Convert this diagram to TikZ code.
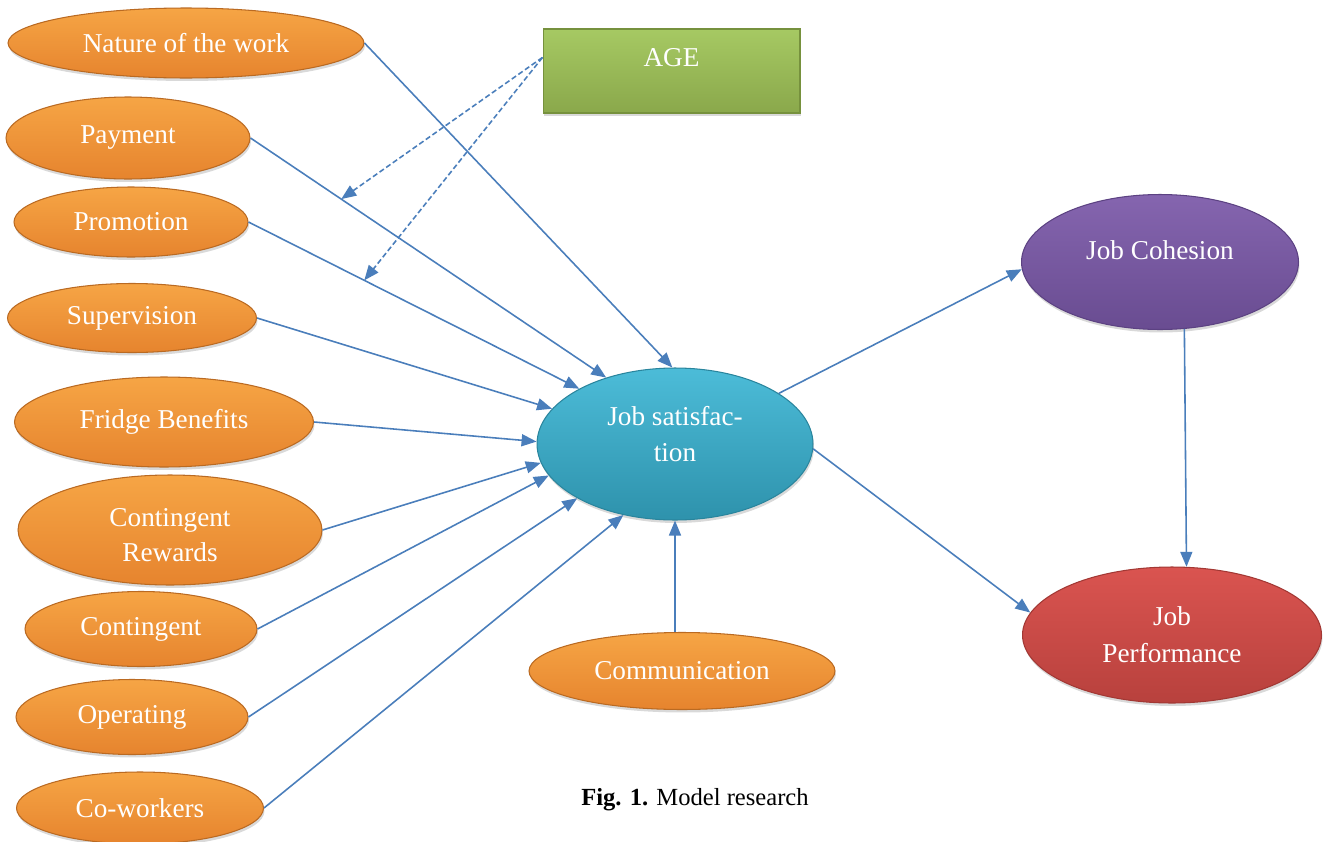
\documentclass[tikz,border=0pt]{standalone}
\usepackage{fontspec}
\setmainfont{Liberation Serif}
\usetikzlibrary{shapes.geometric,arrows.meta,shadows}
\definecolor{orTop}{HTML}{F6A545}
\definecolor{orBot}{HTML}{E6842E}
\definecolor{orEdge}{HTML}{BA6A22}
\definecolor{jsTop}{HTML}{4CBCD8}
\definecolor{jsBot}{HTML}{2E92AC}
\definecolor{jsEdge}{HTML}{2A859D}
\definecolor{puTop}{HTML}{8565AF}
\definecolor{puBot}{HTML}{694C91}
\definecolor{puEdge}{HTML}{5C4282}
\definecolor{reTop}{HTML}{DA5450}
\definecolor{reBot}{HTML}{B8413D}
\definecolor{reEdge}{HTML}{A23834}
\definecolor{grTop}{HTML}{A6C963}
\definecolor{grBot}{HTML}{8AA84B}
\definecolor{grEdge}{HTML}{76913D}
\definecolor{arrBlue}{HTML}{4A7EBB}
\begin{document}
\begin{tikzpicture}[x=0.02cm,y=-0.02cm,
  lbl/.style={font=\fontsize{15.5}{21}\selectfont, text=white, align=center},
  shadowed/.style={drop shadow={opacity=0.3, shadow xshift=0.02cm, shadow yshift=-0.06cm}},
  oval/.style={ellipse, inner sep=0pt, lbl, line width=0.6pt, shadowed,
    draw=orEdge, top color=orTop, bottom color=orBot},
  jsoval/.style={oval, draw=jsEdge, top color=jsTop, bottom color=jsBot},
  puoval/.style={oval, draw=puEdge, top color=puTop, bottom color=puBot},
  reoval/.style={oval, draw=reEdge, top color=reTop, bottom color=reBot},
  agebox/.style={rectangle, inner sep=0pt, line width=0.6pt, shadowed,
    draw=grEdge, top color=grTop, bottom color=grBot},
  arr/.style={draw=arrBlue, line width=0.9pt, -{Triangle[length=0.3cm,width=0.24cm]}},
  darr/.style={arr, dash pattern=on 3pt off 1.6pt}
]
\useasboundingbox (0,0) rectangle (1323,842);

% left factor ovals
\node[oval, minimum width=7.12cm, minimum height=1.40cm] (nat) at (186,43) {Nature of the work};
\node[oval, minimum width=4.88cm, minimum height=1.64cm] (pay) at (128,138) {Payment};
\node[oval, minimum width=4.68cm, minimum height=1.40cm] (pro) at (131,222) {Promotion};
\node[oval, minimum width=4.98cm, minimum height=1.38cm] (sup) at (132,318) {Supervision};
\node[oval, minimum width=5.98cm, minimum height=1.80cm] (fri) at (164,422) {Fridge Benefits};
\node[oval, minimum width=6.08cm, minimum height=2.20cm] (cre) at (170,530) {};
\node[lbl, font=\fontsize{15.5}{19.5}\selectfont] (cretxt) at (170,535) {Contingent\\Rewards};
\node[oval, minimum width=4.64cm, minimum height=1.50cm] (con) at (141,629) {Contingent};
\node[oval, minimum width=4.64cm, minimum height=1.50cm] (ope) at (132,717) {Operating};
\node[oval, minimum width=4.94cm, minimum height=1.44cm] (cow) at (140,808) {Co-workers};
\node[oval, minimum width=6.12cm, minimum height=1.54cm] (com) at (682,671) {Communication};

% central and outcome ovals
\node[jsoval, minimum width=5.52cm, minimum height=3.04cm] (js) at (675,444) {};
\node[lbl] (jstxt) at (675,434) {Job satisfac-\\tion};
\node[puoval, minimum width=5.54cm, minimum height=2.70cm] (coh) at (1160,262) {};
\node[lbl] (cohtxt) at (1160,250) {Job Cohesion};
\node[reoval, minimum width=5.98cm, minimum height=2.72cm] (perf) at (1172,635) {Job\\Performance};

% moderator
\node[agebox, minimum width=5.14cm, minimum height=1.68cm] (age) at (671.5,71) {};
\node[lbl] (agetxt) at (671.5,58) {AGE};

% caption
\node[font=\fontsize{14}{17}\selectfont] (cap) at (695,800) {\textbf{Fig. 1.} Model research};

% connectors
\draw[arr] (nat.east) -- (js.92);
\draw[arr] (pay.east) -- (js.136) coordinate[pos=0.255] (m1);
\draw[arr] (pro.east) -- (js.150) coordinate[pos=0.35] (m2);
\draw[arr] (sup.east) -- (js.164);
\draw[arr] (fri.east) -- (js.179);
\draw[arr] (cre.east) -- (js.188);
\draw[arr] (con.east) -- (js.194);
\draw[arr] (ope.east) -- (js.209);
\draw[arr] (cow.east) -- (js.234);
\draw[arr] (js.south |- com.north) -- (js.south);
\draw[arr] (js.26) -- (coh.183);
\draw[arr] (js.358) -- (perf.171);
\draw[arr] (coh.290) -- (perf.78);
\draw[darr] (age.174) -- (m1);
\draw[darr] (age.174) -- (m2);
\end{tikzpicture}
\end{document}
